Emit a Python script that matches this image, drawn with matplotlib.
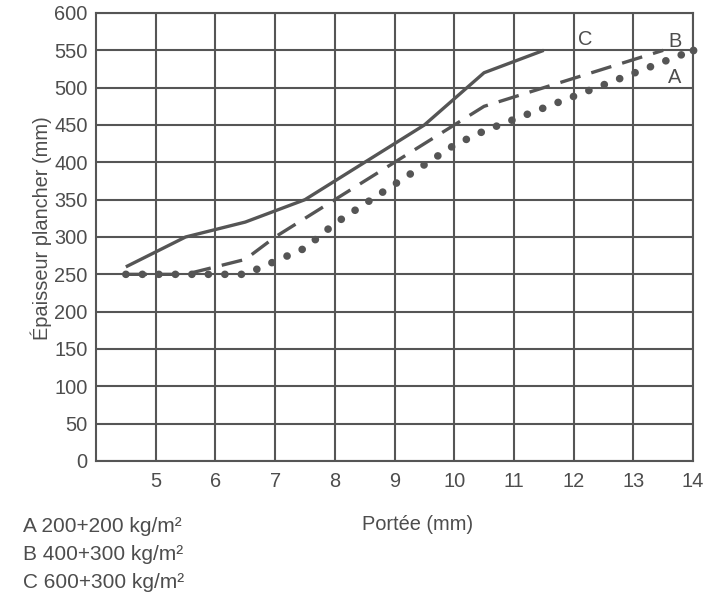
import matplotlib
matplotlib.use("Agg")
import matplotlib.pyplot as plt

plt.rcParams['font.family'] = ['Liberation Sans', 'DejaVu Sans']

# span (x) and floor thickness (y) for the three load cases
a_x = [4.5, 6.5, 7.5, 8, 10, 10.5, 14]
a_y = [250, 250, 285, 318, 423, 442, 550]
b_x = [4.5, 5.5, 6.5, 7, 10.5, 13.5]
b_y = [250, 250, 270, 300, 475, 550]
c_x = [4.5, 5.5, 6.5, 7.5, 9.5, 10.5, 11.5]
c_y = [260, 300, 320, 350, 450, 520, 550]

x_ticks = [5, 6, 7, 8, 9, 10, 11, 12, 13, 14]
y_ticks = list(range(0, 601, 50))
legend_lines = ["A 200+200 kg/m²", "B 400+300 kg/m²", "C 600+300 kg/m²"]

col = "#555555"
txt = "#4d4d4d"
fs = 14.4

fig = plt.figure(figsize=(7.2, 5.96), dpi=100)
ax = fig.add_axes([96 / 720, 1 - 461 / 596, (693 - 96) / 720, (461 - 13) / 596])

ax.set_xlim(4, 14)
ax.set_ylim(0, 600)
ax.set_xticks(x_ticks)
ax.set_yticks(y_ticks)
ax.grid(True, color=col, linewidth=1.5)
ax.set_axisbelow(True)
for s in ax.spines.values():
    s.set_color(col)
    s.set_linewidth(1.5)
ax.tick_params(length=0, labelsize=fs, labelcolor=txt)
ax.tick_params(axis='x', pad=8)
ax.tick_params(axis='y', pad=6)

ax.plot(c_x, c_y, color=col, linewidth=2.4, solid_capstyle='butt')
ax.plot(b_x, b_y, color=col, linewidth=2.4, linestyle=(0, (6.3, 3.4)))
ax.plot(a_x, a_y, color=col, linewidth=5.5, linestyle=(0, (0.01, 2.15)),
        dash_capstyle='round', clip_on=False)
# dotted line ends on a dot at the last point
ax.plot(a_x[-1:], a_y[-1:], 'o', color=col, markersize=5.6, markeredgewidth=0,
        clip_on=False)

ax.text(12.2, 564, "C", fontsize=fs, color=txt, ha='center', va='center')
ax.text(13.7, 562, "B", fontsize=fs, color=txt, ha='center', va='center')
ax.text(13.7, 514, "A", fontsize=fs, color=txt, ha='center', va='center')

fig.text(41 / 720, 1 - 228 / 596, "Épaisseur plancher (mm)", fontsize=fs,
         color=txt, rotation=90, ha='center', va='center')
fig.text(418 / 720, 1 - 525 / 596, "Portée (mm)", fontsize=fs, color=txt,
         ha='center', va='center')
for i, line in enumerate(legend_lines):
    fig.text(23 / 720, 1 - (526 + 28.5 * i) / 596, line, fontsize=fs + 0.6,
             color=txt, ha='left', va='center')

fig.savefig("out.png", dpi=100)
